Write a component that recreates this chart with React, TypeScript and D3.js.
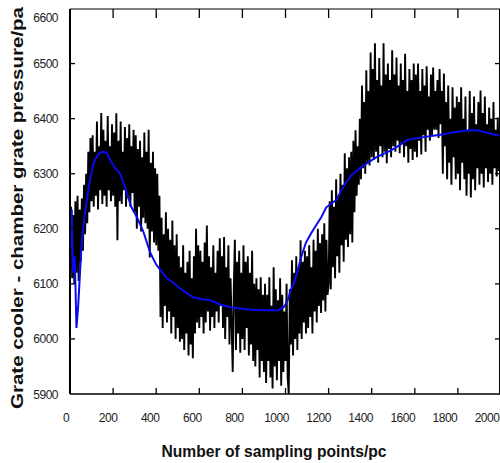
import React from 'react';
import * as d3 from 'd3';

const xTickValues = [0, 200, 400, 600, 800, 1000, 1200, 1400, 1600, 1800, 2000];
const yTickValues = [5900, 6000, 6100, 6200, 6300, 6400, 6500, 6600];

// measured pressure, one value every 5 sampling points (0 .. 2000)
const sampleStep = 5;
const measured = [
  6130, 6240, 6110, 6225, 6100, 6250, 6120, 6260, 6105, 6235, 6140, 6255, 6160, 6280, 6190, 6300, 6210, 6340, 6230, 6365,
  6250, 6370, 6240, 6340, 6260, 6395, 6235, 6350, 6270, 6410, 6245, 6380, 6260, 6360, 6240, 6405, 6270, 6350, 6250, 6390,
  6260, 6375, 6240, 6410, 6179, 6360, 6250, 6395, 6245, 6340, 6270, 6385, 6240, 6365, 6255, 6390, 6240, 6350, 6265, 6380,
  6230, 6370, 6200, 6345, 6240, 6360, 6195, 6330, 6220, 6375, 6210, 6340, 6200, 6380, 6148, 6320, 6195, 6340, 6175, 6310,
  6170, 6300, 6160, 6260, 6040, 6220, 6020, 6190, 6060, 6230, 6030, 6200, 6050, 6180, 6010, 6215, 6040, 6170, 6000, 6190,
  6020, 6150, 5995, 6130, 6000, 6170, 5980, 6120, 6010, 6140, 5970, 6160, 5990, 6110, 5965, 6150, 6010, 6200, 6030, 6170,
  6020, 6160, 6040, 6140, 6010, 6175, 6030, 6206, 6050, 6150, 6015, 6130, 6040, 6170, 6020, 6120, 6050, 6160, 6030, 6183,
  6060, 6150, 6020, 6185, 6000, 6130, 6040, 6170, 5990, 6110, 6030, 5940, 6090, 6180, 5980, 6140, 6010, 6160, 5975, 6120,
  6000, 6170, 5980, 6140, 6020, 6150, 5970, 6120, 5990, 6160, 5960, 6100, 5950, 6110, 5980, 6090, 5930, 6112, 5960, 6080,
  5940, 6100, 5920, 6080, 5960, 6112, 5930, 6060, 5910, 6130, 5950, 6090, 5925, 6070, 5960, 6110, 5915, 6080, 5940, 6050,
  5960, 6100, 5930, 5900, 6090, 5990, 6143, 5970, 6120, 6000, 6150, 5980, 6130, 6010, 6179, 6000, 6140, 6030, 6160, 6010,
  6150, 6020, 6170, 6040, 6130, 6010, 6180, 6050, 6160, 6030, 6200, 6060, 6174, 6047, 6190, 6070, 6210, 6050, 6180, 6080,
  6100, 6250, 6090, 6270, 6130, 6240, 6110, 6290, 6150, 6260, 6120, 6300, 6170, 6280, 6140, 6337, 6180, 6310, 6167, 6330,
  6190, 6340, 6175, 6360, 6230, 6379, 6260, 6350, 6280, 6400, 6290, 6460, 6310, 6430, 6300, 6488, 6320, 6450, 6315, 6520,
  6330, 6490, 6325, 6537, 6340, 6470, 6320, 6510, 6350, 6460, 6330, 6537, 6340, 6480, 6319, 6500, 6345, 6470, 6330, 6524,
  6350, 6480, 6340, 6511, 6360, 6460, 6337, 6500, 6355, 6470, 6330, 6518, 6350, 6450, 6320, 6490, 6345, 6470, 6325, 6500,
  6340, 6480, 6330, 6500, 6360, 6450, 6335, 6490, 6370, 6460, 6340, 6495, 6380, 6440, 6360, 6480, 6370, 6493, 6380, 6450,
  6380, 6470, 6365, 6490, 6390, 6450, 6300, 6482, 6350, 6430, 6290, 6460, 6320, 6400, 6280, 6457, 6330, 6420, 6290, 6440,
  6300, 6430, 6270, 6457, 6320, 6400, 6290, 6440, 6260, 6380, 6300, 6450, 6257, 6410, 6290, 6440, 6270, 6390, 6310, 6430,
  6280, 6451, 6300, 6410, 6275, 6440, 6310, 6390, 6285, 6420, 6300, 6400, 6280, 6430, 6310, 6380, 6295, 6402, 6305, 6370,
  6320,
];

// fitted (smoothed) curve
const fittedX = [
  0, 8, 14, 22, 30, 38, 45, 55, 70, 90, 110, 130, 150, 170, 190, 210, 233, 256, 284, 312, 340, 373, 400, 420, 450, 476,
  510, 536, 569, 600, 653, 700, 750, 800, 850, 900, 965, 993, 1010, 1025, 1049, 1072, 1095, 1119, 1140, 1166, 1189,
  1210, 1235, 1260, 1282, 1305, 1330, 1352, 1390, 1422, 1460, 1492, 1530, 1562, 1600, 1632, 1670, 1702, 1740, 1772,
  1800, 1830, 1860, 1890, 1920, 1950, 1980, 2005,
];
const fittedY = [
  6140, 6235, 6120, 6150, 6020, 6060, 6110, 6180, 6230, 6283, 6320, 6335, 6340, 6338, 6322, 6310, 6300, 6275, 6240,
  6220, 6195, 6156, 6135, 6125, 6110, 6103, 6092, 6085, 6076, 6073, 6070, 6062, 6057, 6055, 6053, 6052, 6052, 6058,
  6070, 6089, 6112, 6148, 6175, 6192, 6205, 6221, 6239, 6245, 6252, 6270, 6285, 6297, 6305, 6312, 6322, 6330, 6337,
  6343, 6352, 6361, 6364, 6366, 6368, 6370, 6372, 6375, 6376, 6378, 6379, 6379, 6376, 6373, 6370, 6370,
];

const labelFont = '"Liberation Sans", Arial, sans-serif';

export default function App() {
  const W = 500;
  const H = 463;
  const left = 70;
  const right = 501;
  const top = 8.5;
  const bottom = 394;

  const x = d3.scaleLinear().domain([0, 2000]).range([left, right]);
  const xLabel = d3.scaleLinear().domain([0, 2000]).range([66, 487]);
  const y = d3.scaleLinear().domain([5900, 6600]).range([bottom, top]);

  const measuredLine = d3
    .line<number>()
    .x((_, i) => x(i * sampleStep))
    .y((d) => y(d));
  const fittedLine = d3
    .line<number>()
    .x((_, i) => x(fittedX[i]))
    .y((d) => y(d));

  return (
    <svg
      width={W}
      height={H}
      style={{ position: 'absolute', left: 0, top: 0, background: '#fff' }}
    >
      <rect x={0} y={0} width={W} height={H} fill="#fff" />

      {/* data */}
      <path d={measuredLine(measured) || ''} fill="none" stroke="#000" strokeWidth={1.9} strokeLinejoin="bevel" />
      <path d={fittedLine(fittedY) || ''} fill="none" stroke="#0a0af0" strokeWidth={2} />

      {/* frame */}
      <line x1={left} x2={right} y1={9} y2={9} stroke="#000" strokeWidth={1.2} />
      <line x1={left} x2={right} y1={bottom} y2={bottom} stroke="#000" strokeWidth={1.5} />
      <line x1={left} x2={left} y1={9} y2={bottom} stroke="#000" strokeWidth={2} />
      <line x1={499.5} x2={499.5} y1={9} y2={bottom} stroke="#000" strokeWidth={1} />

      {/* x ticks (inside, top and bottom) */}
      {xTickValues.slice(1).map((v) => (
        <g key={'xt' + v}>
          <line x1={x(v)} x2={x(v)} y1={bottom} y2={bottom - 6} stroke="#000" strokeWidth={1.3} />
          <line x1={x(v)} x2={x(v)} y1={9} y2={18} stroke="#000" strokeWidth={1.3} />
        </g>
      ))}
      {/* y ticks (inside, left and right) */}
      {yTickValues.slice(1, -1).map((v) => (
        <g key={'yt' + v}>
          <line x1={left} x2={left + 5} y1={y(v)} y2={y(v)} stroke="#000" strokeWidth={1.3} />
          <line x1={495} x2={500} y1={y(v)} y2={y(v)} stroke="#000" strokeWidth={1.3} />
        </g>
      ))}

      {/* tick labels */}
      {xTickValues.map((v) => (
        <text
          key={'xl' + v}
          x={xLabel(v)}
          y={422}
          textAnchor="middle"
          fontFamily={labelFont}
          fontSize={12}
          letterSpacing={-0.5}
          fill="#222"
        >
          {v}
        </text>
      ))}
      {yTickValues.map((v) => (
        <text
          key={'yl' + v}
          x={58}
          y={Math.max(y(v), 17) + 4.5}
          textAnchor="end"
          fontFamily={labelFont}
          fontSize={12}
          letterSpacing={-0.5}
          fill="#222"
        >
          {v}
        </text>
      ))}

      {/* axis titles */}
      <text
        x={274}
        y={457}
        textAnchor="middle"
        fontFamily={labelFont}
        fontWeight="bold"
        fontSize={17}
        textLength={225}
        lengthAdjust="spacingAndGlyphs"
        fill="#111"
      >
        Number of sampling points/pc
      </text>
      <text
        transform="translate(23,208) rotate(-90)"
        textAnchor="middle"
        fontFamily={labelFont}
        fontWeight="bold"
        fontSize={16}
        textLength={402}
        lengthAdjust="spacingAndGlyphs"
        fill="#111"
      >
        Grate cooler - chamber grate pressure/pa
      </text>
    </svg>
  );
}
